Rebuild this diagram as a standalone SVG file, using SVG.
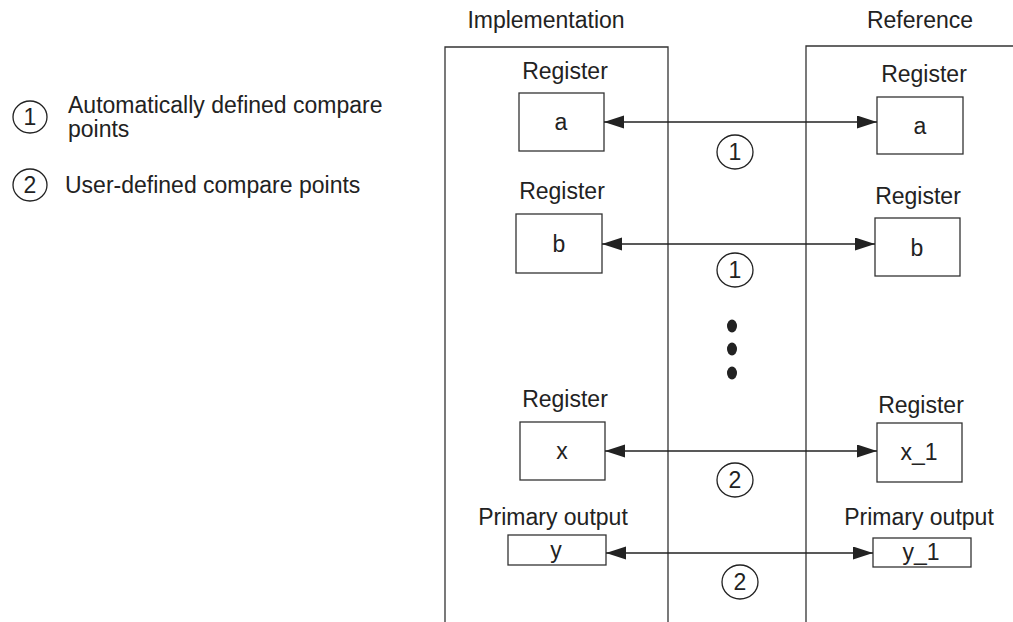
<svg xmlns="http://www.w3.org/2000/svg" width="1013" height="622" viewBox="0 0 1013 622">
<style>
text{font-family:"Liberation Sans",Arial,sans-serif;font-size:23px;fill:#222;}
.c{text-anchor:middle;}
.box{fill:#fff;stroke:#333;stroke-width:1.3;}
.frame{fill:none;stroke:#333;stroke-width:1.3;}
.num{fill:none;stroke:#222;stroke-width:1.3;}
.conn line{stroke:#222;stroke-width:1.3;}
</style>
<defs>
<marker id="ah" markerUnits="userSpaceOnUse" markerWidth="22" markerHeight="14" refX="20" refY="6.5" orient="auto-start-reverse">
<path d="M0,0 L20,6.5 L0,13 z" fill="#222"/>
</marker>
</defs>
<rect width="1013" height="622" fill="#fff"/>
<g id="legend">
<ellipse class="num" cx="30" cy="117" rx="17" ry="16"/>
<text class="c" x="30" y="125">1</text>
<text x="68" y="113">Automatically defined compare</text>
<text x="68" y="137">points</text>
<ellipse class="num" cx="30" cy="185" rx="17" ry="16"/>
<text class="c" x="30" y="193">2</text>
<text x="65" y="193">User-defined compare points</text>
</g>
<g id="implementation">
<path class="frame" d="M445,622 V47 H668 V622"/>
<text class="c" x="546" y="28">Implementation</text>
</g>
<g id="reference">
<path class="frame" d="M806,622 V46 H1013"/>
<text class="c" x="920" y="28">Reference</text>
</g>
<g id="impl-a">
<text class="c" x="565" y="79">Register</text>
<rect class="box" x="519" y="93" width="85" height="58"/>
<text class="c" x="561" y="130">a</text>
</g>
<g id="ref-a">
<text class="c" x="924" y="82">Register</text>
<rect class="box" x="877" y="97" width="86" height="57"/>
<text class="c" x="920" y="134">a</text>
</g>
<g id="impl-b">
<text class="c" x="562" y="199">Register</text>
<rect class="box" x="516" y="214" width="86" height="59"/>
<text class="c" x="559" y="252">b</text>
</g>
<g id="ref-b">
<text class="c" x="918" y="204">Register</text>
<rect class="box" x="875" y="218" width="85" height="58"/>
<text class="c" x="917" y="256">b</text>
</g>
<g id="impl-x">
<text class="c" x="565" y="407">Register</text>
<rect class="box" x="520" y="422" width="85" height="58"/>
<text class="c" x="562" y="459">x</text>
</g>
<g id="ref-x">
<text class="c" x="921" y="413">Register</text>
<rect class="box" x="877" y="423" width="85" height="59"/>
<text class="c" x="919" y="460">x_1</text>
</g>
<g id="impl-y">
<text class="c" x="553" y="525">Primary output</text>
<rect class="box" x="508" y="535" width="98" height="30"/>
<text class="c" x="556" y="558">y</text>
</g>
<g id="ref-y">
<text class="c" x="919" y="525">Primary output</text>
<rect class="box" x="873" y="538" width="98" height="29"/>
<text class="c" x="921" y="560">y_1</text>
</g>
<g id="dots" fill="#222">
<ellipse cx="732" cy="326" rx="5" ry="6.5"/>
<ellipse cx="732" cy="349" rx="5" ry="6.5"/>
<ellipse cx="732" cy="373" rx="5" ry="6.5"/>
</g>
<g id="connectors" class="conn">
<line x1="604" y1="122" x2="877" y2="122" marker-start="url(#ah)" marker-end="url(#ah)"/>
<line x1="602" y1="244" x2="875" y2="244" marker-start="url(#ah)" marker-end="url(#ah)"/>
<line x1="605" y1="451" x2="877" y2="451" marker-start="url(#ah)" marker-end="url(#ah)"/>
<line x1="606" y1="553" x2="873" y2="553" marker-start="url(#ah)" marker-end="url(#ah)"/>
</g>
<g id="labels">
<ellipse class="num" cx="735" cy="152" rx="18" ry="17"/>
<text class="c" x="735" y="160">1</text>
<ellipse class="num" cx="735" cy="270" rx="18" ry="17"/>
<text class="c" x="735" y="278">1</text>
<ellipse class="num" cx="735" cy="480" rx="18" ry="17"/>
<text class="c" x="735" y="488">2</text>
<ellipse class="num" cx="740" cy="582" rx="18" ry="17"/>
<text class="c" x="740" y="590">2</text>
</g>
</svg>
